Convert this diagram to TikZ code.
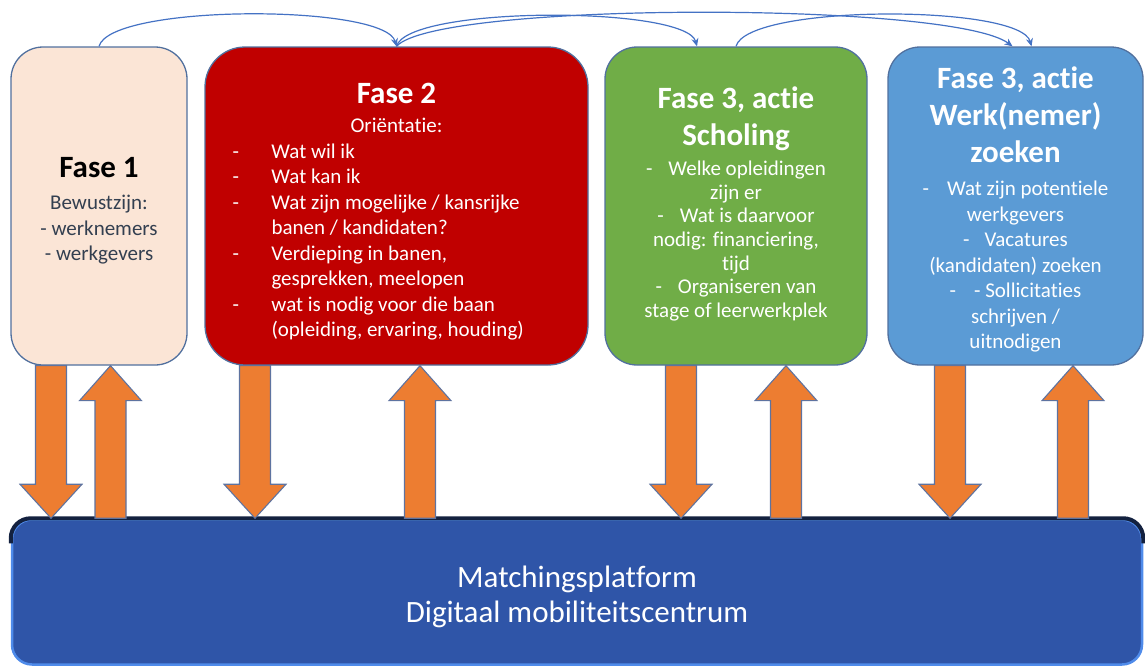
\documentclass[tikz,border=0pt]{standalone}
\usepackage{fontspec}
\setmainfont{Carlito}[Ligatures=NoCommon]
\usepackage{tikz}
\usetikzlibrary{arrows.meta,calc,positioning}
\definecolor{faseone}{HTML}{FBE5D6}
\definecolor{fasetwo}{HTML}{C00000}
\definecolor{fasescholing}{HTML}{70AD47}
\definecolor{fasewerk}{HTML}{5B9BD5}
\definecolor{boxedge}{HTML}{51709E}
\definecolor{platblue}{HTML}{2F55A8}
\definecolor{platedge}{HTML}{4F8BEA}
\definecolor{plattop}{HTML}{13213F}
\definecolor{arroworange}{HTML}{ED7D31}
\definecolor{arrowedge}{HTML}{5E73A0}
\definecolor{linkblue}{HTML}{4472C4}
\definecolor{darktext}{HTML}{333F50}
\newcommand{\bodyfont}{\fontsize{21}{25.5}\selectfont\lineskiplimit=-100pt}
\newcommand{\tightfont}{\fontsize{21}{23.6}\selectfont\lineskiplimit=-100pt}
\newcommand{\phasetitle}{\bfseries\fontsize{31}{37}\selectfont}
\newcommand{\dash}{\makebox[39pt][l]{-}}
\tikzset{
phase/.style={draw=boxedge, line width=1.3pt, rounded corners=32pt, minimum height=318pt},
phasetext/.style={align=center, inner sep=0pt, font=\bodyfont, text=white},
platform/.style={fill=platblue, draw=platedge, line width=2.5pt, rounded corners=20pt,
  minimum width=1130pt, minimum height=145pt},
blockarrow/.style={fill=arroworange, draw=arrowedge, line width=1.1pt},
link/.style={draw=linkblue, line width=1.2pt, -{Stealth[length=8pt,width=7pt]}}
}
% block arrow: x of the shaft, node it leaves, node it points at
\newcommand{\blockdown}[3]{%
  \draw[blockarrow] let \p1=(#2.south), \p2=(#3.north) in
    ({(#1-15.5)*1pt},\y1) -- ({(#1+15.5)*1pt},\y1) -- ({(#1+15.5)*1pt},{\y2+34pt})
    -- ({(#1+31)*1pt},{\y2+34pt}) -- ({#1*1pt},\y2) -- ({(#1-31)*1pt},{\y2+34pt})
    -- ({(#1-15.5)*1pt},{\y2+34pt}) -- cycle;}
\newcommand{\blockup}[3]{%
  \draw[blockarrow] let \p1=(#2.north), \p2=(#3.south) in
    ({(#1-15.5)*1pt},\y1) -- ({(#1+15.5)*1pt},\y1) -- ({(#1+15.5)*1pt},{\y2-35pt})
    -- ({(#1+31)*1pt},{\y2-35pt}) -- ({#1*1pt},\y2) -- ({(#1-31)*1pt},{\y2-35pt})
    -- ({(#1-15.5)*1pt},{\y2-35pt}) -- cycle;}

\begin{document}
\begin{tikzpicture}[x=1pt, y=-1pt]
\useasboundingbox (0,0) rectangle (1145,667);

% the four phases
\node[phase, fill=faseone, minimum width=176pt] (f1) at (99,206) {};
\node[phasetext, text=darktext] (f1txt) at ([yshift=-5pt]f1.center)
  {{\phasetitle\color{black}Fase 1}\\[6.5pt]
   Bewustzijn:\\- werknemers\\- werkgevers};

\node[phase, fill=fasetwo, rounded corners=40pt, minimum width=383pt] (f2) at (396.5,206) {};
\node[phasetext] (f2txt) at ([yshift=-6pt]f2.center)
  {{\phasetitle Fase 2}\\[3.5pt]
   Oriëntatie:\\
   \parbox[t]{328pt}{\raggedright
   \dash Wat wil ik\\
   \dash Wat kan ik\\
   \dash Wat zijn mogelijke / kansrijke\\
   \hspace*{39pt}banen / kandidaten?\\
   \dash Verdieping in banen,\\
   \hspace*{39pt}gesprekken, meelopen\\
   \dash wat is nodig voor die baan\\
   \hspace*{39pt}(opleiding, ervaring, houding)}};

\node[phase, fill=fasescholing, minimum width=262pt] (f3) at (736,206) {};
\node[phasetext, font=\tightfont] (f3txt) at ([yshift=2pt]f3.center)
  {{\phasetitle Fase 3, actie}\\[13.4pt]{\phasetitle Scholing}\\[6.4pt]
   -\hspace{16pt}Welke opleidingen\\zijn er\\
   -\hspace{16pt}Wat is daarvoor\\nodig: financiering,\\tijd\\
   -\hspace{16pt}Organiseren van\\stage of leerwerkplek};

\node[phase, fill=fasewerk, minimum width=255pt] (f4) at (1015.5,206) {};
\node[phasetext] (f4txt) at ([yshift=-3.5pt]f4.center)
  {{\phasetitle Fase 3, actie}\\[11.5pt]{\phasetitle Werk(nemer)}\\[11.5pt]{\phasetitle zoeken}\\[7.5pt]
   -\hspace{18pt}Wat zijn potentiele\\werkgevers\\
   -\hspace{15pt}Vacatures\\(kandidaten) zoeken\\
   -\hspace{18pt}- Sollicitaties\\schrijven /\\uitnodigen};

% platform
\node[platform] (mp) at (577,592) {};
\draw[plattop, line width=4pt, rounded corners=20pt]
  ([yshift=-25pt]mp.north west) |- (mp.north east) -- ([yshift=-25pt]mp.north east);
\node[phasetext, font=\fontsize{31}{35}\selectfont] (mptxt) at ([yshift=-5pt]mp.center)
  {Matchingsplatform\\Digitaal mobiliteitscentrum};

% links between the phases
\draw[link] (f1.north) to[out=75, in=105, looseness=0.38] (f2.north);
\draw[link] (f2.north) to[out=75, in=105, looseness=0.36] ([xshift=-39pt]f3.north);
\draw[link] (f2.north) .. controls +(40,-45) and +(-60,-45) .. ([xshift=-3pt]f4.north);
\draw[link] (f3.north) to[out=75, in=105, looseness=0.38] ([xshift=16pt]f4.north);

% up and down
\blockdown{51}{f1}{mp}
\blockup{110.5}{mp}{f1}
\blockdown{255}{f2}{mp}
\blockup{420}{mp}{f2}
\blockdown{681}{f3}{mp}
\blockup{786}{mp}{f3}
\blockdown{950}{f4}{mp}
\blockup{1073}{mp}{f4}
\end{tikzpicture}
\end{document}
